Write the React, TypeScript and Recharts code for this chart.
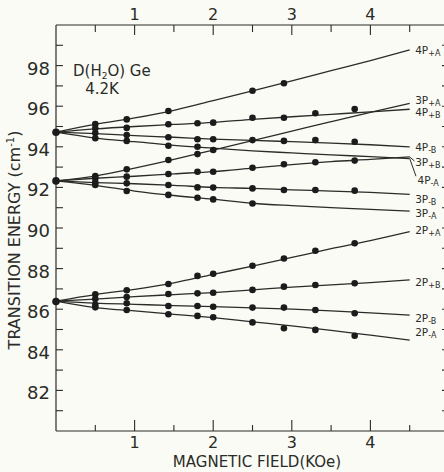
import React from 'react';
import { ComposedChart, Line, Scatter, XAxis, YAxis } from 'recharts';

const FIELD_GRID = [0, 0.5, 1, 1.5, 2, 2.5, 3, 3.5, 4, 4.5];

// Fitted curves, transition energy (cm^-1)
const FIT_4P_PA = [94.72, 95.1, 95.42, 95.8, 96.28, 96.76, 97.25, 97.75, 98.25, 98.77];
const FIT_4P_PB = [94.72, 94.88, 95.0, 95.1, 95.2, 95.35, 95.48, 95.6, 95.72, 95.85];
const FIT_4P_MB = [94.72, 94.65, 94.55, 94.47, 94.38, 94.32, 94.25, 94.18, 94.1, 94.0];
const FIT_4P_MA = [94.72, 94.43, 94.25, 94.07, 93.93, 93.8, 93.7, 93.6, 93.52, 93.42];
const FIT_3P_PA = [92.32, 92.56, 92.95, 93.38, 93.84, 94.3, 94.77, 95.24, 95.7, 96.14];
const FIT_3P_PB = [92.32, 92.45, 92.55, 92.67, 92.78, 92.95, 93.12, 93.27, 93.38, 93.5];
const FIT_3P_MB = [92.32, 92.24, 92.18, 92.1, 92.0, 91.95, 91.88, 91.82, 91.75, 91.66];
const FIT_3P_MA = [92.32, 92.1, 91.82, 91.6, 91.42, 91.22, 91.1, 91.0, 90.92, 90.83];
const FIT_2P_PA = [86.4, 86.72, 86.98, 87.3, 87.72, 88.12, 88.55, 88.98, 89.38, 89.82];
const FIT_2P_PB = [86.4, 86.5, 86.62, 86.72, 86.82, 86.95, 87.09, 87.2, 87.31, 87.44];
const FIT_2P_MB = [86.4, 86.3, 86.24, 86.18, 86.13, 86.07, 86.0, 85.92, 85.82, 85.71];
const FIT_2P_MA = [86.4, 86.08, 85.92, 85.75, 85.58, 85.38, 85.18, 84.96, 84.72, 84.48];

// Measured points
const MEAS_FIELD = [0.5, 0.9, 1.43, 1.8, 2.0, 2.5, 2.9, 3.3, 3.8];
const MEAS_4P_PA = [95.12, 95.35, 95.76, null, null, 96.76, 97.13, null, null];
const MEAS_4P_PB = [94.91, 94.93, 95.11, 95.16, 95.19, 95.43, 95.43, 95.65, 95.86];
const MEAS_4P_MB = [94.68, 94.58, 94.47, 94.37, 94.37, 94.33, 94.29, 94.33, 94.25];
const MEAS_4P_MA = [94.42, 94.29, 94.05, 94.0, 93.84, null, null, null, null];
const MEAS_3P_PA = [92.56, 92.89, 93.35, 93.64, null, null, null, null, null];
const MEAS_3P_PB = [92.45, 92.53, 92.66, 92.77, 92.77, 92.97, 93.14, 93.24, 93.32];
const MEAS_3P_MB = [92.25, 92.2, 92.12, 92.0, 91.99, 91.95, 91.87, 91.87, 91.84];
const MEAS_3P_MA = [92.12, 91.82, 91.63, 91.49, 91.41, 91.21, null, null, null];
const MEAS_2P_PA = [86.73, 86.93, 87.24, 87.64, 87.75, 88.14, 88.5, 88.88, 89.25];
const MEAS_2P_PB = [86.5, 86.6, 86.75, 86.78, 86.81, 86.95, 87.11, 87.19, 87.28];
const MEAS_2P_MB = [86.22, 86.29, 86.16, 86.16, 86.12, 86.08, 86.08, 85.96, 85.8];
const MEAS_2P_MA = [86.09, 85.96, 85.75, 85.67, 85.6, 85.35, 85.06, 84.98, 84.69];
const ZERO_FIELD_LEVELS = [94.72, 92.32, 86.38];

// Curve labels at the right end
const LABEL_LEVELS = ['4P', '3P', '4P', '4P', '3P', '4P', '3P', '3P', '2P', '2P', '2P', '2P'];
const LABEL_SUBS = ['+A', '+A', '+B', '-B', '+B', '-A', '-B', '-A', '+A', '+B', '-B', '-A'];
const LABEL_FIELD = [4.57, 4.57, 4.57, 4.57, 4.57, 4.6, 4.57, 4.57, 4.57, 4.57, 4.57, 4.57];
const LABEL_ENERGY = [98.77, 96.3, 95.71, 93.99, 93.25, 92.36, 91.43, 90.74, 89.9, 87.34, 85.57, 84.88];

// Leader lines (kOe, cm^-1)
const LEADER_3P_PB_FIELD = [4.5, 4.56];
const LEADER_3P_PB_ENERGY = [93.5, 93.3];
const LEADER_4P_MA_FIELD = [4.5, 4.58];
const LEADER_4P_MA_ENERGY = [93.42, 92.55];

const Y_TICKS = [81, 82, 83, 84, 85, 86, 87, 88, 89, 90, 91, 92, 93, 94, 95, 96, 97, 98, 99];
const X_TICKS = [0.5, 1, 1.5, 2, 2.5, 3, 3.5, 4, 4.5];

const FITS = [FIT_4P_PA, FIT_4P_PB, FIT_4P_MB, FIT_4P_MA, FIT_3P_PA, FIT_3P_PB, FIT_3P_MB, FIT_3P_MA, FIT_2P_PA, FIT_2P_PB, FIT_2P_MB, FIT_2P_MA];
const MEAS = [MEAS_4P_PA, MEAS_4P_PB, MEAS_4P_MB, MEAS_4P_MA, MEAS_3P_PA, MEAS_3P_PB, MEAS_3P_MB, MEAS_3P_MA, MEAS_2P_PA, MEAS_2P_PB, MEAS_2P_MB, MEAS_2P_MA];

const fitData = FITS.map((arr) => FIELD_GRID.map((B, i) => ({ B, E: arr[i] })));
const measData: { B: number; E: number }[] = [];
MEAS.forEach((arr) => arr.forEach((v, i) => { if (v != null) measData.push({ B: MEAS_FIELD[i], E: v }); }));
const zeroData = ZERO_FIELD_LEVELS.map((E) => ({ B: 0, E }));
const labelData = LABEL_LEVELS.map((lv, i) => ({ B: LABEL_FIELD[i], E: LABEL_ENERGY[i], lv, sub: LABEL_SUBS[i] }));
const leader1 = LEADER_3P_PB_FIELD.map((B, i) => ({ B, E: LEADER_3P_PB_ENERGY[i] }));
const leader2 = LEADER_4P_MA_FIELD.map((B, i) => ({ B, E: LEADER_4P_MA_ENERGY[i] }));

const INK = '#2a2c28';
const BG = '#fbfbf5';
const FONT = 'DejaVu Sans';

const LabelShape = (p: any) => {
  const { cx, cy, payload } = p;
  return (
    <text x={cx} y={cy + 4} fontFamily={FONT} fontSize={10.5} fill={INK}>
      {payload.lv}
      <tspan fontSize={8} dy={2}>{payload.sub}</tspan>
    </text>
  );
};

const Dot = (p: any) => <circle cx={p.cx} cy={p.cy} r={3.3} fill="#1b1b1b" />;
const BigDot = (p: any) => <circle cx={p.cx} cy={p.cy} r={3.8} fill="#1b1b1b" />;

const BottomTick = (p: any) => {
  const v = p.payload.value;
  const major = Number.isInteger(v);
  return (
    <g>
      <line x1={p.x} x2={p.x} y1={p.y} y2={p.y - (major ? 11 : 6)} stroke={INK} strokeWidth={1.1} />
      {major && (
        <text x={p.x} y={p.y + 17} textAnchor="middle" fontFamily={FONT} fontSize={16} fill={INK}>{v}</text>
      )}
    </g>
  );
};
const TopTick = (p: any) => {
  const v = p.payload.value;
  const major = Number.isInteger(v);
  return (
    <g>
      <line x1={p.x} x2={p.x} y1={p.y} y2={p.y + (major ? 10 : 7)} stroke={INK} strokeWidth={1.1} />
      {major && (
        <text x={p.x} y={p.y - 5} textAnchor="middle" fontFamily={FONT} fontSize={16} fill={INK}>{v}</text>
      )}
    </g>
  );
};
const LeftTick = (p: any) => {
  const v = p.payload.value;
  return (
    <g>
      <line x1={p.x} x2={p.x + 7} y1={p.y} y2={p.y} stroke={INK} strokeWidth={1.1} />
      {v % 2 === 0 && (
        <text x={p.x - 6} y={p.y + 9} textAnchor="end" fontFamily={FONT} fontSize={18} fill={INK}>{v}</text>
      )}
    </g>
  );
};
const RightTick = (p: any) => (
  <line x1={p.x} x2={p.x - 7} y1={p.y} y2={p.y} stroke={INK} strokeWidth={1.1} />
);

export default function App() {
  return (
    <div style={{ position: 'absolute', left: 0, top: 0, width: 444, height: 472, overflow: 'hidden', background: BG }}>
      <ComposedChart width={460} height={472} margin={{ top: 0, right: 0, bottom: 0, left: 0 }}>
        <XAxis xAxisId="b" dataKey="B" type="number" domain={[0, 5]} ticks={X_TICKS} interval={0}
          orientation="bottom" height={41} tickSize={0} tickMargin={0} tickLine={false}
          axisLine={{ stroke: INK, strokeWidth: 1.2 }} tick={BottomTick} />
        <XAxis xAxisId="t" dataKey="B" type="number" domain={[0, 5]} ticks={X_TICKS} interval={0}
          orientation="top" height={25} tickSize={0} tickMargin={0} tickLine={false}
          axisLine={{ stroke: INK, strokeWidth: 1.2 }} tick={TopTick} />
        <YAxis yAxisId="l" type="number" domain={[80, 100]} ticks={Y_TICKS} interval={0} width={56}
          tickSize={0} tickMargin={0} tickLine={false}
          axisLine={{ stroke: INK, strokeWidth: 1.2 }} tick={LeftTick} />
        <YAxis yAxisId="r" orientation="right" type="number" domain={[80, 100]} ticks={Y_TICKS} interval={0}
          width={11} tickSize={0} tickMargin={0} tickLine={false}
          axisLine={{ stroke: INK, strokeWidth: 1.2 }} tick={RightTick} />
        {/* invisible companion series so the top and right axes are registered */}
        <Line xAxisId="t" yAxisId="r" data={fitData[0]} dataKey="E" stroke="none" strokeWidth={0}
          dot={false} activeDot={false} isAnimationActive={false} />
        {fitData.map((d, i) => (
          <Line key={i} xAxisId="b" yAxisId="l" data={d} dataKey="E" type="monotone" stroke={INK}
            strokeWidth={1.3} dot={false} activeDot={false} isAnimationActive={false} />
        ))}
        <Line xAxisId="b" yAxisId="l" data={leader1} dataKey="E" stroke={INK} strokeWidth={1}
          dot={false} activeDot={false} isAnimationActive={false} />
        <Line xAxisId="b" yAxisId="l" data={leader2} dataKey="E" stroke={INK} strokeWidth={1}
          dot={false} activeDot={false} isAnimationActive={false} />
        <Scatter xAxisId="b" yAxisId="l" data={measData} dataKey="E" shape={Dot} isAnimationActive={false} />
        <Scatter xAxisId="b" yAxisId="l" data={zeroData} dataKey="E" shape={BigDot} isAnimationActive={false} />
        <Scatter xAxisId="b" yAxisId="l" data={labelData} dataKey="E" shape={LabelShape} isAnimationActive={false} />
      </ComposedChart>
      <svg width={444} height={472} style={{ position: 'absolute', left: 0, top: 0, pointerEvents: 'none' }}>
        <text x={73} y={76} fontFamily={FONT} fontSize={15} fill={INK}>
          D(H<tspan fontSize={9} dy={3}>2</tspan><tspan dy={-3}>O) Ge</tspan>
        </text>
        <text x={102} y={94} fontFamily={FONT} fontSize={15} fill={INK} textAnchor="middle">4.2K</text>
        <text x={257} y={467} fontFamily={FONT} fontSize={15} fill={INK} textAnchor="middle">MAGNETIC FIELD(KOe)</text>
        <text x={20} y={240} fontFamily={FONT} fontSize={16} fill={INK} textAnchor="middle" transform="rotate(-90 20 240)">
          TRANSITION ENERGY (cm<tspan fontSize={10} dy={-6}>-1</tspan><tspan dy={6}>)</tspan>
        </text>
      </svg>
    </div>
  );
}
